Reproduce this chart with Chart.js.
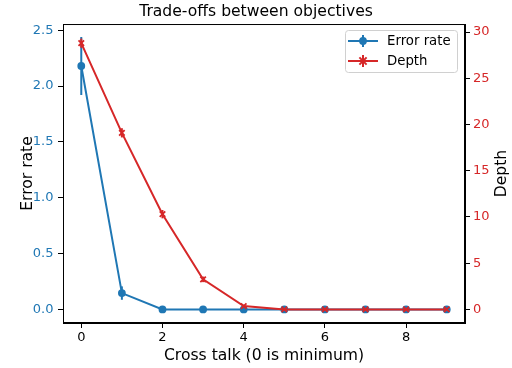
<!DOCTYPE html>
<html>
<head>
<meta charset="utf-8">
<script src="https://cdn.jsdelivr.net/npm/chart.js@4/dist/chart.umd.min.js"></script>
<style>
  html, body { margin: 0; padding: 0; background: #fff; }
  canvas { display: block; }
</style>
</head>
<body>
<canvas id="tradeoff" width="512" height="368"></canvas>
<script>
// --- Trade-offs between objectives: error rate and depth vs cross talk ---

const crossTalk = [0, 1, 2, 3, 4, 5, 6, 7, 8, 9];
const errorRate = [2.18, 0.146, 0, 0, 0, 0, 0, 0, 0, 0];
const errorRateErr = [0.26, 0.06, 0, 0, 0, 0, 0, 0, 0, 0];
const depth = [28.8, 19.1, 10.3, 3.25, 0.36, 0, 0, 0, 0, 0];
const depthErr = [0.5, 0.5, 0.45, 0.3, 0.15, 0, 0, 0, 0, 0];

const xTicks = [0, 2, 4, 6, 8];
const errTicks = [0, 0.5, 1.0, 1.5, 2.0, 2.5];
const depthTicks = [0, 5, 10, 15, 20, 25, 30];

const BLUE = '#1f77b4';
const RED = '#d62728';
const FONT = "'DejaVu Sans', sans-serif";
const LABEL_SIZE = 15.6;
const TICK_SIZE = 13;
const LINE_W = 2;

const toPoints = (ys) => crossTalk.map((x, i) => ({ x: x, y: ys[i] }));
const fixTicks = (list) => (scale) => { scale.ticks = list.map(v => ({ value: v })); };

// vertical error bars, drawn under each dataset's line and markers
const errorBars = {
    id: 'errorBars',
    beforeDatasetDraw(chart, args) {
        const ds = chart.data.datasets[args.index];
        if (!ds.errors) return;
        const xs = chart.scales.x;
        const ys = chart.scales[ds.yAxisID];
        const ctx = chart.ctx;
        ctx.save();
        ctx.strokeStyle = ds.borderColor;
        ctx.lineWidth = LINE_W;
        ds.data.forEach((p, i) => {
            const e = ds.errors[i];
            if (!e) return;
            const px = xs.getPixelForValue(p.x);
            ctx.beginPath();
            ctx.moveTo(px, ys.getPixelForValue(p.y - e));
            ctx.lineTo(px, ys.getPixelForValue(p.y + e));
            ctx.stroke();
        });
        ctx.restore();
    }
};

// axes frame on all four sides, right axis title and the boxed legend
const frameAndLegend = {
    id: 'frameAndLegend',
    afterDraw(chart) {
        const ctx = chart.ctx;
        const a = chart.chartArea;
        ctx.save();
        ctx.strokeStyle = '#000';
        ctx.lineWidth = 1;
        ctx.strokeRect(a.left + 0.5, a.top + 0.5, a.right - a.left - 1, a.bottom - a.top - 1);

        // "Depth" reads bottom to top, like the left title
        ctx.save();
        ctx.translate(501.5, (a.top + a.bottom) / 2);
        ctx.rotate(-Math.PI / 2);
        ctx.fillStyle = '#000';
        ctx.font = LABEL_SIZE + 'px ' + FONT;
        ctx.textAlign = 'center';
        ctx.textBaseline = 'middle';
        ctx.fillText('Depth', 0, 0);
        ctx.restore();

        const bx = 345, by = 30, bw = 112, bh = 42;
        ctx.beginPath();
        ctx.roundRect(bx + 0.5, by + 0.5, bw, bh, 3);
        ctx.fillStyle = 'rgba(255,255,255,0.8)';
        ctx.fill();
        ctx.strokeStyle = '#d0d0d0';
        ctx.stroke();

        chart.data.datasets.forEach((ds, i) => {
            const y = 41 + i * 20;
            const mx = 363;
            ctx.strokeStyle = ds.borderColor;
            ctx.lineWidth = LINE_W;
            ctx.beginPath();
            ctx.moveTo(348, y);
            ctx.lineTo(378, y);
            ctx.moveTo(mx, y - 6);
            ctx.lineTo(mx, y + 6);
            ctx.stroke();
            if (ds.pointStyle === 'circle') {
                ctx.fillStyle = ds.borderColor;
                ctx.beginPath();
                ctx.arc(mx, y, 3.9, 0, Math.PI * 2);
                ctx.fill();
            } else {
                ctx.beginPath();
                ctx.moveTo(mx - 3.6, y - 3.6); ctx.lineTo(mx + 3.6, y + 3.6);
                ctx.moveTo(mx - 3.6, y + 3.6); ctx.lineTo(mx + 3.6, y - 3.6);
                ctx.stroke();
            }
            ctx.fillStyle = '#000';
            ctx.font = '13.3px ' + FONT;
            ctx.textBaseline = 'middle';
            ctx.fillText(ds.label, 387, y + 1);
        });
        ctx.restore();
    }
};

const tickGrid = {
    drawOnChartArea: false,
    drawTicks: true,
    tickLength: 5,
    tickWidth: 1,
    color: '#000'
};

new Chart(document.getElementById('tradeoff').getContext('2d'), {
    type: 'line',
    data: {
        datasets: [
            {
                label: 'Error rate',
                data: toPoints(errorRate),
                errors: errorRateErr,
                yAxisID: 'y',
                borderColor: BLUE,
                backgroundColor: BLUE,
                borderWidth: LINE_W,
                pointStyle: 'circle',
                pointRadius: 3.9,
                pointBorderWidth: 0,
                tension: 0,
                order: 1
            },
            {
                label: 'Depth',
                data: toPoints(depth),
                errors: depthErr,
                yAxisID: 'y1',
                borderColor: RED,
                backgroundColor: RED,
                borderWidth: LINE_W,
                pointStyle: 'crossRot',
                pointRadius: 3.9,
                pointBorderWidth: 1.8,
                tension: 0,
                order: 0
            }
        ]
    },
    options: {
        responsive: false,
        animation: false,
        layout: { padding: 0 },
        plugins: {
            legend: { display: false },
            tooltip: { enabled: false },
            title: {
                display: true,
                text: 'Trade-offs between objectives',
                color: '#000',
                font: { family: FONT, size: LABEL_SIZE, weight: 'normal' },
                padding: { top: 3, bottom: 2.3 }
            }
        },
        scales: {
            x: {
                type: 'linear',
                min: -0.45,
                max: 9.45,
                afterBuildTicks: fixTicks(xTicks),
                afterFit: (s) => { s.height = 45; },
                grid: tickGrid,
                border: { display: true, color: '#000' },
                ticks: { color: '#000', padding: 2, font: { family: FONT, size: TICK_SIZE } },
                title: {
                    display: true,
                    text: 'Cross talk (0 is minimum)',
                    color: '#000',
                    font: { family: FONT, size: LABEL_SIZE },
                    padding: { top: 0, bottom: 3 }
                }
            },
            y: {
                type: 'linear',
                position: 'left',
                min: -0.122,
                max: 2.556,
                afterBuildTicks: fixTicks(errTicks),
                afterFit: (s) => { s.width = 63; },
                grid: tickGrid,
                border: { display: true, color: '#000' },
                ticks: {
                    color: BLUE,
                    padding: 4.5,
                    font: { family: FONT, size: TICK_SIZE },
                    callback: (v) => v.toFixed(1)
                },
                title: {
                    display: true,
                    text: 'Error rate',
                    color: '#000',
                    font: { family: FONT, size: LABEL_SIZE },
                    padding: { top: 19, bottom: 0 }
                }
            },
            y1: {
                type: 'linear',
                position: 'right',
                min: -1.47,
                max: 30.87,
                afterBuildTicks: fixTicks(depthTicks),
                afterFit: (s) => { s.width = 47; },
                grid: tickGrid,
                border: { display: true, color: '#000' },
                ticks: {
                    color: RED,
                    padding: 3,
                    font: { family: FONT, size: TICK_SIZE },
                    callback: (v) => String(v)
                },
                title: { display: false }
            }
        }
    },
    plugins: [errorBars, frameAndLegend]
});
</script>
</body>
</html>
